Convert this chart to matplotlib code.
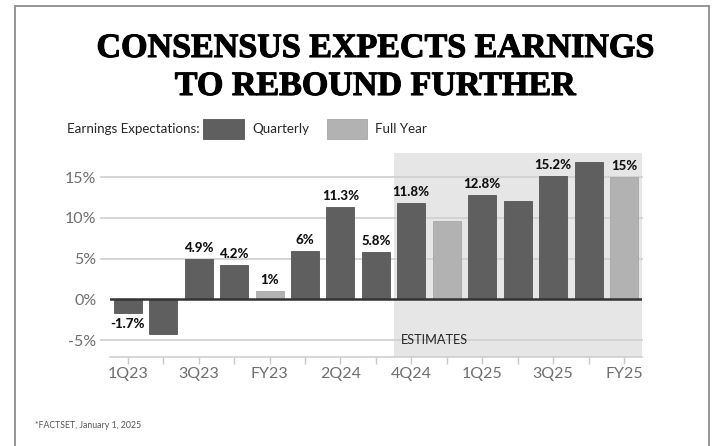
import matplotlib
matplotlib.use("Agg")
import matplotlib.pyplot as plt
import matplotlib.patheffects as pe
from matplotlib.patches import Rectangle
from matplotlib.transforms import blended_transform_factory

# ---- data -------------------------------------------------------------
categories = ["1Q23", "2Q23", "3Q23", "4Q23", "FY23",
              "1Q24", "2Q24", "3Q24", "4Q24", "FY24",
              "1Q25", "2Q25", "3Q25", "4Q25", "FY25"]
growth = [-1.7, -4.2, 4.9, 4.2, 1.0,
          6.0, 11.3, 5.8, 11.8, 9.6,
          12.8, 12.1, 15.2, 16.8, 15.0]
labeled = [True, False, True, True, True,
           True, True, True, True, False,
           True, False, True, False, True]
shown_ticks = ["1Q23", "3Q23", "FY23", "2Q24", "4Q24", "1Q25", "3Q25", "FY25"]
y_ticks = [-5, 0, 5, 10, 15]
first_estimate = "4Q24"

# ---- style ------------------------------------------------------------
W, H = 715, 446
QUARTER_C = "#5f5f5f"
YEAR_C = "#b2b2b2"
SHADE_C = "#e6e6e6"
GRID_C = "#d2d2d2"
TICK_C = "#6e6e6e"
SANS = ["Lato", "DejaVu Sans"]
SERIF = ["Liberation Serif", "DejaVu Serif"]


def fx(x):
    return x / W


def fy(y):
    return 1 - y / H


fig = plt.figure(figsize=(W / 100, H / 100), dpi=100)
fig.patch.set_facecolor("white")

# outer frame
fig.patches.append(Rectangle((fx(15), fy(458)), fx(709) - fx(15), fy(6) - fy(458),
                             transform=fig.transFigure, fill=False,
                             edgecolor="#8c8c8c", linewidth=1.3, clip_on=False))

# title, thickened with a thin outline
heavy = [pe.withStroke(linewidth=0.8, foreground="black")]
fig.text(fx(375), fy(57), "CONSENSUS EXPECTS EARNINGS", ha="center", va="baseline",
         family=SERIF, weight="bold", fontsize=24.5, color="black", path_effects=heavy)
fig.text(fx(375), fy(95), "TO REBOUND FURTHER", ha="center", va="baseline",
         family=SERIF, weight="bold", fontsize=24.5, color="black", path_effects=heavy)

# legend row
fig.text(fx(67), fy(129), "Earnings Expectations:", ha="left", va="center",
         family=SANS, fontsize=9.6, color="#262626")
fig.patches.append(Rectangle((fx(203), fy(139)), fx(244) - fx(203), fy(119) - fy(139),
                             transform=fig.transFigure, facecolor=QUARTER_C,
                             edgecolor="#555555", linewidth=0.6))
fig.text(fx(252), fy(129), "Quarterly", ha="left", va="center",
         family=SANS, fontsize=9.6, color="#262626")
fig.patches.append(Rectangle((fx(327), fy(139)), fx(367) - fx(327), fy(119) - fy(139),
                             transform=fig.transFigure, facecolor=YEAR_C,
                             edgecolor="#a5a5a5", linewidth=0.6))
fig.text(fx(375), fy(129), "Full Year", ha="left", va="center",
         family=SANS, fontsize=9.6, color="#262626")

# footnote
fig.text(fx(35), fy(426), "*FACTSET, January 1, 2025", ha="left", va="center",
         family=SANS, fontsize=6.3, color="#555555")

# ---- chart ------------------------------------------------------------
ax = fig.add_axes([fx(110), fy(356.5), fx(641.7) - fx(110), fy(152.7) - fy(356.5)])
ax.set_facecolor("none")
n = len(categories)
xs = list(range(n))
ax.set_xlim(-0.5, n - 0.5)
ax.set_ylim(-7, 18)

# estimates band
est = categories.index(first_estimate)
ax.axvspan(est - 0.5, n - 0.5, color=SHADE_C, zorder=0, linewidth=0)

# gridlines, reaching a little left of the plot area
gtrans = blended_transform_factory(ax.transAxes, ax.transData)
for v in y_ticks:
    if v == 0:
        continue
    ax.plot([-0.016, 1], [v, v], transform=gtrans, color=GRID_C, linewidth=1.3,
            clip_on=False, zorder=1)

colors = [YEAR_C if c.startswith("FY") else QUARTER_C for c in categories]
edges = ["#a8a8a8" if c.startswith("FY") else "#555555" for c in categories]
ax.bar(xs, growth, width=0.79, color=colors, edgecolor=edges, linewidth=0.6, zorder=2)

ax.axhline(0, color="#333333", linewidth=1.8, zorder=3)

# value labels
for x, v, show in zip(xs, growth, labeled):
    if not show:
        continue
    txt = f"{v:g}%"
    off = 11 if v >= 0 else -11
    ax.annotate(txt, (x, v), xytext=(0, off * 0.72), textcoords="offset points",
                ha="center", va="center", family=SANS, weight="black",
                fontsize=9.5, color="#111111", zorder=4)

ax.text(7.7, -5, "ESTIMATES", ha="left", va="center", family=SANS,
        fontsize=9.2, color="#262626", zorder=4)

# axes styling
for s in ["top", "right", "left"]:
    ax.spines[s].set_visible(False)
ax.spines["bottom"].set_color("#cfcfcf")
ax.spines["bottom"].set_linewidth(1.2)
ax.spines["bottom"].set_position(("data", -7))

ax.set_xticks(xs)
ax.set_xticklabels([c if c in shown_ticks else "" for c in categories],
                   family=SANS, fontsize=11.5, color=TICK_C)
ax.tick_params(axis="x", length=5, width=1, color="#c8c8c8", pad=2.5)

ax.set_yticks(y_ticks)
ax.set_yticklabels([f"{v}%" for v in y_ticks], family=SANS, fontsize=11.5, color=TICK_C)
ax.tick_params(axis="y", length=0, pad=9.8)

fig.savefig("out.png", dpi=100, facecolor="white")
